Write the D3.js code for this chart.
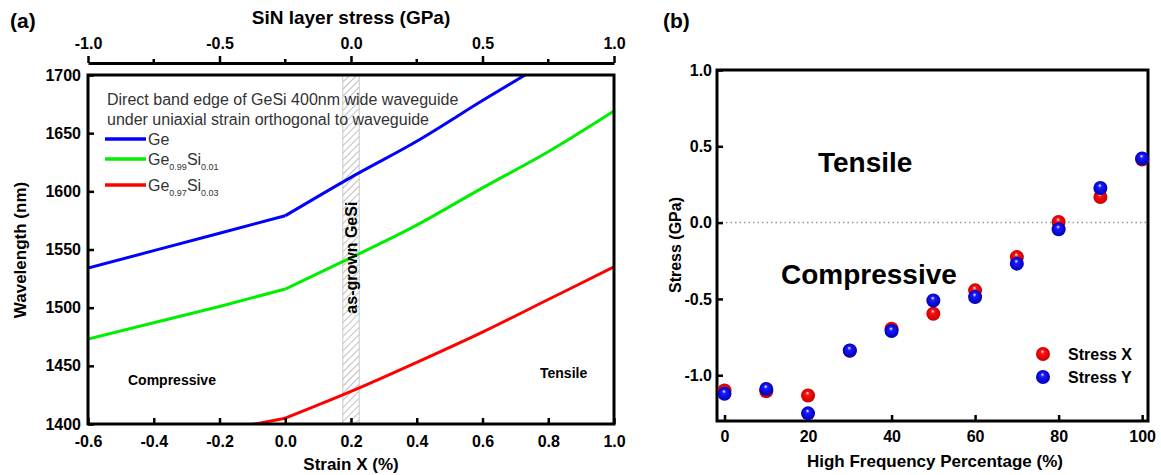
<!DOCTYPE html>
<html>
<head>
<meta charset="utf-8">
<script src="https://cdn.jsdelivr.net/npm/d3@7"></script>
<style>
  body { margin: 0; background: #fff; }
  svg { font-family: Arial, "Liberation Sans", sans-serif; }
  .tick text { font-family: Arial, "Liberation Sans", sans-serif; font-weight: bold; font-size: 16px; fill: #000; }
  .tick line { stroke: #000; stroke-width: 2.5; }
</style>
</head>
<body>
<div id="container"></div>
<script>
// ---- panel (a): band edge vs strain ----
const strain = [-0.6, -0.4, -0.2, 0.0, 0.2, 0.4, 0.6, 0.8, 1.0];
const geWl = [1534, 1549, 1564, 1579, 1612, 1643, 1678, 1712, 1746];
const ge099Wl = [1473, 1487, 1501, 1516, 1543, 1571, 1603, 1634, 1669];
const ge097Wl = [1372, 1383, 1394, 1405, 1428, 1453, 1479, 1507, 1535];
const seriesNames = ["Ge", "Ge0.99Si0.01", "Ge0.97Si0.03"];
const strainTicks = [-0.6, -0.4, -0.2, 0.0, 0.2, 0.4, 0.6, 0.8, 1.0];
const stressTicks = [-1.0, -0.5, 0.0, 0.5, 1.0];
const stressMinor = [-0.75, -0.25, 0.25, 0.75];
const wlTicks = [1400, 1450, 1500, 1550, 1600, 1650, 1700];
const asGrown = [0.175, 0.225];

// ---- panel (b): stress vs HF percentage ----
const hfPct = [0, 10, 20, 30, 40, 50, 60, 70, 80, 90, 100];
const stressX = [-1.10, -1.105, -1.133, -0.84, -0.695, -0.597, -0.444, -0.226, 0.004, 0.168, 0.413];
const stressY = [-1.122, -1.09, -1.25, -0.838, -0.711, -0.51, -0.488, -0.269, -0.044, 0.227, 0.42];
const hfTicks = [0, 20, 40, 60, 80, 100];
const stressYTicks = [-1.0, -0.5, 0.0, 0.5, 1.0];

// one decimal, plain hyphen for minus like the original
const f1 = d => d3.format(".1f")(d).replace("\u2212", "-");

window.onload = () => {
  const svg = d3.select("#container").append("svg")
    .attr("width", 1161).attr("height", 475);

  const defs = svg.append("defs");
  const hatch = defs.append("pattern")
    .attr("id", "hatch").attr("patternUnits", "userSpaceOnUse")
    .attr("width", 5).attr("height", 5)
    .attr("patternTransform", "rotate(45)");
  hatch.append("rect").attr("width", 5).attr("height", 5).attr("fill", "#fff");
  hatch.append("line").attr("x1", 0).attr("y1", 0).attr("x2", 0).attr("y2", 5)
    .attr("stroke", "#a0a0a0").attr("stroke-width", 1.3);

  const grad = (id, c, dark) => {
    const g = defs.append("radialGradient").attr("id", id)
      .attr("cx", "50%").attr("cy", "50%").attr("r", "50%")
      .attr("fx", "45%").attr("fy", "30%");
    g.append("stop").attr("offset", "0%").attr("stop-color", "#fff");
    g.append("stop").attr("offset", "28%").attr("stop-color", c);
    g.append("stop").attr("offset", "100%").attr("stop-color", dark);
  };
  grad("ballRed", "#ff1010", "#c80000");
  grad("ballBlue", "#1a1aff", "#0000b8");

  // ================= panel (a) =================
  const x = d3.scaleLinear().domain([-0.6, 1.0]).range([88, 614]);
  const xTop = d3.scaleLinear().domain([-1.0, 1.0]).range([88, 614]);
  const y = d3.scaleLinear().domain([1400, 1700]).range([424, 75]);

  defs.append("clipPath").attr("id", "clipA").append("rect")
    .attr("x", 88).attr("y", 75).attr("width", 526).attr("height", 349);

  // as-grown band
  svg.append("rect")
    .attr("x", x(asGrown[0])).attr("y", y(1700))
    .attr("width", x(asGrown[1]) - x(asGrown[0]))
    .attr("height", y(1400) - y(1700))
    .attr("fill", "url(#hatch)").attr("stroke", "#c8c8c8").attr("stroke-width", 1);

  const line = d3.line().curve(d3.curveMonotoneX).x(d => x(d[0])).y(d => y(d[1]));
  const colors = ["#0000ff", "#00ee00", "#ff0000"];
  [geWl, ge099Wl, ge097Wl].forEach((s, i) => {
    const pts = strain.map((v, j) => [v, s[j]]);
    // straight segments up to the kink at 0, smooth after
    svg.append("path")
      .datum(pts.filter(d => d[0] <= 0))
      .attr("clip-path", "url(#clipA)")
      .attr("d", d3.line().x(d => x(d[0])).y(d => y(d[1])))
      .attr("fill", "none").attr("stroke", colors[i]).attr("stroke-width", 3)
      .attr("stroke-linejoin", "round");
    svg.append("path")
      .datum(pts.filter(d => d[0] >= 0))
      .attr("clip-path", "url(#clipA)")
      .attr("d", line).attr("fill", "none")
      .attr("stroke", colors[i]).attr("stroke-width", 3);
  });

  svg.append("text")
    .attr("transform", `translate(${x(0.2) + 6},${y(1543)}) rotate(-90)`)
    .attr("text-anchor", "middle")
    .attr("font-weight", "bold").attr("font-size", 16)
    .text("as-grown GeSi");

  // axes
  svg.append("g").attr("transform", "translate(0,424)")
    .call(d3.axisBottom(x).tickValues(strainTicks).tickFormat(f1)
      .tickSize(-6).tickPadding(12).tickSizeOuter(0))
    .call(g => g.select(".domain").remove());

  svg.append("g").attr("transform", "translate(88,0)")
    .call(d3.axisLeft(y).tickValues(wlTicks).tickFormat(d3.format("d"))
      .tickSize(-6).tickPadding(7).tickSizeOuter(0))
    .call(g => g.select(".domain").remove());

  const top = svg.append("g").attr("transform", "translate(0,63)");
  top.call(d3.axisTop(xTop).tickValues(stressTicks).tickFormat(f1)
      .tickSize(7).tickPadding(7).tickSizeOuter(0))
    .call(g => g.select(".domain").attr("stroke-width", 3));
  top.selectAll(".minor").data(stressMinor).enter().append("line")
    .attr("class", "minor")
    .attr("x1", d => xTop(d)).attr("x2", d => xTop(d))
    .attr("y1", 0).attr("y2", -4)
    .attr("stroke", "#000").attr("stroke-width", 2.5);

  svg.append("rect").attr("x", 88).attr("y", 75).attr("width", 526).attr("height", 349)
    .attr("fill", "none").attr("stroke", "#000").attr("stroke-width", 3);

  // legend
  const lg = svg.append("g").attr("font-size", 16).attr("fill", "#333");
  lg.append("text").attr("x", 107).attr("y", 105).text("Direct band edge of GeSi 400nm wide waveguide");
  lg.append("text").attr("x", 107).attr("y", 125).text("under uniaxial strain orthogonal to waveguide");
  const legY = [139, 159, 185];
  seriesNames.forEach((n, i) => {
    lg.append("line").attr("x1", 105).attr("x2", 146)
      .attr("y1", legY[i]).attr("y2", legY[i])
      .attr("stroke", colors[i]).attr("stroke-width", 3.5);
    const t = lg.append("text").attr("x", 148).attr("y", legY[i] + 6);
    if (i === 0) {
      t.text("Ge");
    } else {
      const parts = n.match(/Ge([\d.]+)Si([\d.]+)/);
      t.append("tspan").text("Ge");
      t.append("tspan").attr("font-size", 9).attr("dy", 5).text(parts[1]);
      t.append("tspan").attr("dy", -5).text("Si");
      t.append("tspan").attr("font-size", 9).attr("dy", 5).text(parts[2]);
    }
  });

  svg.append("text").attr("x", 128).attr("y", 385)
    .attr("font-weight", "bold").attr("font-size", 14).text("Compressive");
  svg.append("text").attr("x", 540).attr("y", 378)
    .attr("font-weight", "bold").attr("font-size", 14).text("Tensile");

  // titles
  svg.append("text").attr("x", 351).attr("y", 24).attr("text-anchor", "middle")
    .attr("font-weight", "bold").attr("font-size", 19).text("SiN layer stress (GPa)");
  svg.append("text").attr("x", 351).attr("y", 470).attr("text-anchor", "middle")
    .attr("font-weight", "bold").attr("font-size", 17).text("Strain X (%)");
  svg.append("text").attr("transform", "translate(26,250) rotate(-90)")
    .attr("text-anchor", "middle")
    .attr("font-weight", "bold").attr("font-size", 17).text("Wavelength (nm)");
  svg.append("text").attr("x", 10).attr("y", 28)
    .attr("font-weight", "bold").attr("font-size", 21).text("(a)");

  // ================= panel (b) =================
  const xr = d3.scaleLinear().domain([-1.8, 101.4]).range([717, 1148]);
  const yr = d3.scaleLinear().domain([-1.3, 1.0]).range([421, 70]);

  svg.append("line")
    .attr("x1", xr(-1.8)).attr("x2", xr(101.4))
    .attr("y1", yr(0)).attr("y2", yr(0))
    .attr("stroke", "#999").attr("stroke-width", 1.5).attr("stroke-dasharray", "1.5,3");

  svg.append("g").attr("transform", "translate(0,421)")
    .call(d3.axisBottom(xr).tickValues(hfTicks).tickSize(-6).tickPadding(10).tickSizeOuter(0))
    .call(g => g.select(".domain").remove());
  svg.append("g").attr("transform", "translate(717,0)")
    .call(d3.axisLeft(yr).tickValues(stressYTicks).tickFormat(f1)
      .tickSize(-6).tickPadding(5).tickSizeOuter(0))
    .call(g => g.select(".domain").remove());

  svg.append("rect").attr("x", 717).attr("y", 70).attr("width", 431).attr("height", 351)
    .attr("fill", "none").attr("stroke", "#000").attr("stroke-width", 3);

  svg.append("text").attr("x", 818).attr("y", 172)
    .attr("font-weight", "bold").attr("font-size", 28).text("Tensile");
  svg.append("text").attr("x", 781).attr("y", 284)
    .attr("font-weight", "bold").attr("font-size", 28).text("Compressive");

  svg.append("g").selectAll("circle").data(hfPct.map((h, i) => [h, stressX[i]]))
    .enter().append("circle")
    .attr("cx", d => xr(d[0])).attr("cy", d => yr(d[1])).attr("r", 7)
    .attr("fill", "url(#ballRed)");
  svg.append("g").selectAll("circle").data(hfPct.map((h, i) => [h, stressY[i]]))
    .enter().append("circle")
    .attr("cx", d => xr(d[0])).attr("cy", d => yr(d[1])).attr("r", 7)
    .attr("fill", "url(#ballBlue)");

  const leg2 = [["Stress X", "ballRed", 354], ["Stress Y", "ballBlue", 377]];
  leg2.forEach(([label, id, ly]) => {
    svg.append("circle").attr("cx", 1043).attr("cy", ly).attr("r", 7).attr("fill", `url(#${id})`);
    svg.append("text").attr("x", 1068).attr("y", ly + 6)
      .attr("font-weight", "bold").attr("font-size", 16).text(label);
  });

  svg.append("text").attr("x", 935).attr("y", 467).attr("text-anchor", "middle")
    .attr("font-weight", "bold").attr("font-size", 17).text("High Frequency Percentage (%)");
  svg.append("text").attr("transform", "translate(681,245) rotate(-90)")
    .attr("text-anchor", "middle")
    .attr("font-weight", "bold").attr("font-size", 16).text("Stress (GPa)");
  svg.append("text").attr("x", 663).attr("y", 28)
    .attr("font-weight", "bold").attr("font-size", 21).text("(b)");
};
</script>
</body>
</html>
